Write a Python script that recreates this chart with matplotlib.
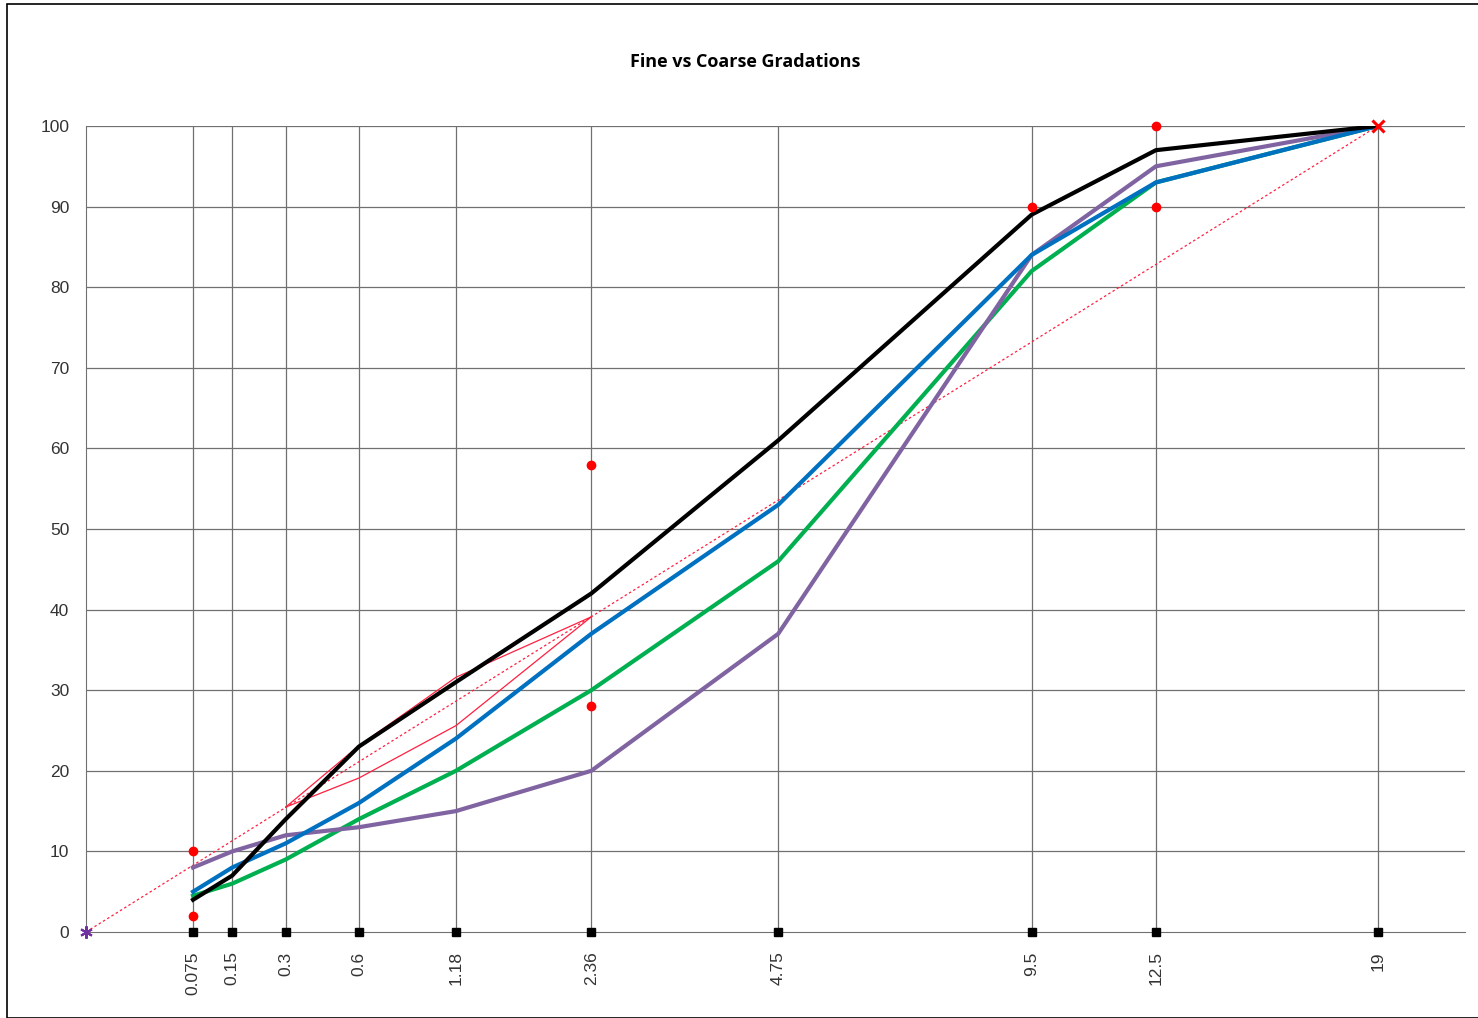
import numpy as np
import matplotlib.pyplot as plt
from matplotlib.patches import Rectangle

# sieve sizes (mm)
sieves = [0.075, 0.15, 0.3, 0.6, 1.18, 2.36, 4.75, 9.5, 12.5, 19]
sieve_labels = ['0.075', '0.15', '0.3', '0.6', '1.18', '2.36', '4.75', '9.5', '12.5', '19']

# gradations (% passing)
black = [4, 7, 14, 23, 31, 42, 61, 89, 97, 100]
blue = [5, 8, 11, 16, 24, 37, 53, 84, 93, 100]
green = [4.5, 6, 9, 14, 20, 30, 46, 82, 93, 100]
purple = [8, 10, 12, 13, 15, 20, 37, 84, 95, 100]

# maximum density line
mdl_x = [0, 19]
mdl_y = [0, 100]

# restricted zone
rz_x = [0.3, 0.6, 1.18, 2.36]
rz_upper = [15.5, 23.1, 31.6, 39.1]
rz_lower = [15.5, 19.1, 25.6, 39.1]

# control points
cp_x = [0.075, 0.075, 2.36, 2.36, 9.5, 12.5, 12.5]
cp_y = [2, 10, 28, 58, 90, 90, 100]

plt.rcParams['font.family'] = ['Liberation Sans', 'DejaVu Sans']

fig = plt.figure(figsize=(14.78, 10.18), dpi=100)
ax = fig.add_axes([86/1478, 1-932/1018, (1465-86)/1478, (932-126)/1018])

fwd = lambda x: np.sign(x)*np.abs(x)**0.45
inv = lambda x: np.sign(x)*np.abs(x)**(1/0.45)
ax.set_xscale('function', functions=(fwd, inv))
ax.set_xlim(0, 21.97)
ax.set_ylim(0, 100)

for s in sieves:
    ax.axvline(s, color='#707070', lw=0.9, zorder=1)
for yv in range(10, 101, 10):
    ax.axhline(yv, color='#707070', lw=0.9, zorder=1)

ax.plot(mdl_x, mdl_y, color='#ff2040', lw=0.9, ls=(0, (2, 2)), zorder=2)
ax.plot(rz_x, rz_upper, color='#ff2040', lw=0.9, zorder=2)
ax.plot(rz_x, rz_lower, color='#ff2040', lw=0.9, zorder=2)

ax.plot(sieves, green, color='#00b050', lw=3.0, zorder=3)
ax.plot(sieves, blue, color='#0070c0', lw=3.0, zorder=4)
ax.plot(sieves, purple, color='#8064a2', lw=3.0, zorder=3)
ax.plot(sieves, black, color='black', lw=3.0, zorder=5)

ax.plot(cp_x, cp_y, 'o', color='#ff0000', ms=6, ls='none', zorder=6, clip_on=False)
ax.plot([19], [100], 'x', color='#ff0000', ms=8, mew=2.2, zorder=6, clip_on=False)
ax.plot([0], [0], marker=(6, 2, 0), color='#7030a0', ms=9, mew=1.5, zorder=6, clip_on=False)
ax.plot(sieves, [0]*len(sieves), 's', color='black', ms=6, ls='none', zorder=6, clip_on=False)

ax.set_xticks(sieves)
ax.set_xticklabels(sieve_labels, rotation=90, fontsize=12.5, color='#333333')
ax.set_yticks(range(0, 101, 10))
ax.tick_params(axis='x', length=0, pad=14)
ax.tick_params(axis='y', length=0, pad=12, labelsize=12.5, labelcolor='#333333')
ax.xaxis.set_minor_locator(plt.NullLocator())

for sp in ['top', 'right']:
    ax.spines[sp].set_visible(False)
ax.spines['left'].set_color('#707070')
ax.spines['bottom'].set_color('#707070')

fig.text(745/1478, 1-62/1018, 'Fine vs Coarse Gradations', ha='center', va='center',
         fontsize=13, fontweight='bold', family=['Open Sans', 'DejaVu Sans'])

fig.patches.append(Rectangle((7/1478, 0), 1.1, 1-4/1018, transform=fig.transFigure,
                             fill=False, edgecolor='black', lw=1.2))

fig.savefig('out.png', dpi=100)
